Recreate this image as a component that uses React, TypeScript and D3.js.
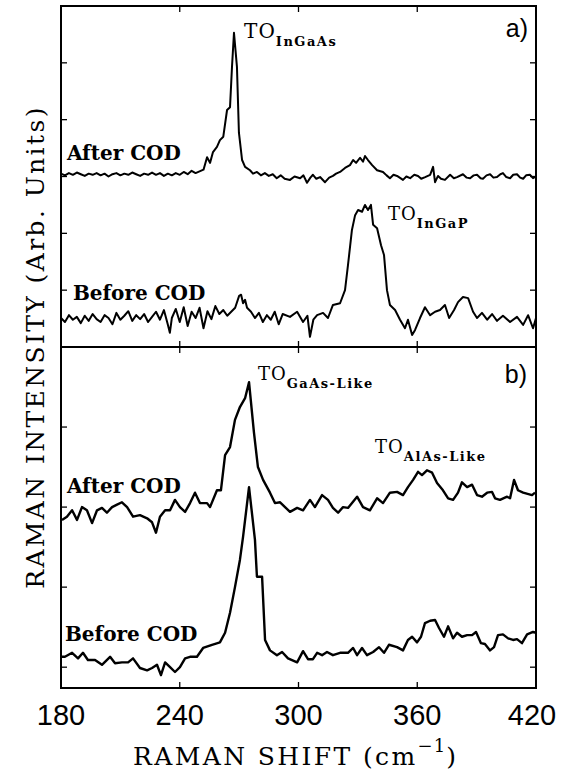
import React from "react";
import * as d3 from "d3";

// ---------- data (Raman shift in cm^-1, intensity in arb. units) ----------
const X_TICKS = [180, 240, 300, 360, 420];
const X_MINOR = [240, 300, 360];
const Y_TICKS_A = [1, 2, 3, 4, 5];
const Y_TICKS_B = [0, 1, 2, 3];

const afterCodA: [number, number][] = [
  [180,3.05],[182,3.02],[184,3.06],[186,3.03],[188,3.07],[190,3.04],[192,3.01],[194,3.05],[196,3.03],[198,3.06],
  [200,3.02],[202,3.05],[204,3.00],[206,3.04],[208,3.06],[210,3.02],[212,3.05],[214,3.03],[216,3.07],[218,3.04],
  [220,3.01],[222,3.05],[224,3.03],[226,3.07],[228,3.03],[230,3.06],[232,3.01],[234,3.05],[236,3.02],[238,3.06],
  [240,3.03],[242,3.08],[244,3.04],[246,3.10],[248,3.06],[250,3.09],[252,3.12],[253.8,3.34],[255.3,3.24],[256.8,3.43],
  [258.8,3.52],[260.3,3.64],[262,3.70],[263.9,4.17],[265.4,4.22],[266.4,4.93],[267.4,5.53],[268.9,4.93],[269.9,3.77],[271.5,3.29],
  [273,3.17],[275.5,3.11],[277,3.05],[279,3.08],[281,3.02],[283,3.06],[285,3.01],[287,3.04],[289,2.97],[291,3.02],
  [293,2.96],[295.7,2.94],[298,3.00],[300.8,2.97],[302.5,3.02],[304.3,2.89],[306,2.98],[307.3,3.03],[309,2.96],[310.9,2.99],
  [313.4,2.90],[315.5,2.98],[317.4,3.01],[319,3.05],[321,3.08],[323.5,3.15],[326,3.20],[327.6,3.29],[329.1,3.24],[331.1,3.33],
  [332.6,3.26],[333.6,3.36],[335.1,3.29],[337.2,3.20],[339.7,3.11],[342.7,3.08],[344.5,3.02],[346.2,2.97],[348,3.03],[349.8,3.01],
  [352.8,2.94],[354.5,3.00],[356.4,2.97],[358.5,3.03],[360.4,3.01],[362,2.96],[364,2.99],[366.5,3.03],[368,3.17],[369,2.90],
  [370.5,3.01],[372,2.96],[374,2.94],[376.6,3.03],[378.5,2.97],[380.1,2.99],[383.1,3.04],[385,2.98],[386.7,2.97],[388.5,3.02],
  [390.2,3.03],[392,2.97],[393.2,2.96],[395,3.02],[396.8,3.04],[398.5,2.98],[400.3,2.99],[402,3.04],[403.3,3.06],[405,2.99],
  [406.9,2.97],[408.5,3.03],[410.4,3.04],[412,2.98],[413.5,2.96],[415,3.02],[417,3.03],[418.5,2.97],[420,3.00],
];

const beforeCodA: [number, number][] = [
  [180,0.51],[182,0.44],[184,0.56],[186,0.48],[188,0.53],[190,0.42],[192,0.55],[194,0.46],[196,0.58],[198,0.49],
  [200,0.44],[202,0.56],[204,0.51],[206,0.40],[208,0.60],[210,0.48],[212,0.55],[214,0.63],[216,0.46],[218,0.56],
  [220,0.49],[222,0.58],[224,0.44],[226,0.53],[228,0.62],[230,0.48],[232,0.65],[234,0.39],[235,0.25],[236,0.51],
  [238,0.67],[240,0.44],[242,0.70],[244,0.37],[246,0.62],[248,0.51],[250,0.69],[252,0.33],[254,0.63],[256,0.49],
  [258,0.72],[260,0.58],[262,0.65],[264,0.55],[266,0.62],[268,0.69],[270,0.90],[271,0.92],[272,0.77],[273,0.83],
  [274,0.69],[276,0.62],[278,0.51],[280,0.60],[282,0.44],[284,0.56],[286,0.48],[288,0.62],[290,0.40],[292,0.58],
  [295.7,0.53],[299.3,0.62],[302.3,0.44],[304.5,0.55],[305.8,0.18],[307.5,0.48],[309.4,0.56],[312.4,0.60],[314.9,0.51],[317.4,0.74],
  [321,0.77],[323.5,1.00],[325,1.44],[327,2.06],[328.6,2.32],[330.1,2.41],[332.1,2.38],[333.6,2.50],[335.1,2.41],[336.6,2.50],
  [337.7,2.15],[339.7,2.09],[341.7,1.79],[343.2,1.62],[344.7,1.00],[346.2,0.74],[348.8,0.65],[351.3,0.48],[353.8,0.33],[355.3,0.48],
  [357.4,0.21],[358.9,0.30],[361.4,0.51],[363.9,0.70],[366.5,0.56],[369,0.62],[371.5,0.65],[374,0.74],[376.1,0.51],[378.6,0.65],
  [380.6,0.79],[383.1,0.88],[385.7,0.86],[388.2,0.62],[390.2,0.51],[392.7,0.60],[395.3,0.48],[397.8,0.58],[400.3,0.46],[403.3,0.55],
  [406.9,0.44],[410.4,0.53],[413.5,0.39],[416,0.56],[418.5,0.33],[420,0.51],
];

const afterCodB: [number, number][] = [
  [180.5,1.84],[183,1.88],[185.6,1.96],[188.1,1.84],[190.6,2.00],[193.1,1.96],[195.7,1.80],[198.2,1.96],[200.7,1.99],[203.2,1.93],
  [205.8,2.00],[208.3,2.03],[210.8,2.06],[213.4,2.00],[216.4,1.88],[219.9,1.90],[223.5,1.86],[226,1.81],[228,1.68],[230,1.88],
  [232.6,1.96],[235.1,1.96],[237.6,2.09],[240.1,2.00],[242.7,1.94],[245.2,2.05],[247.7,2.18],[250.2,2.05],[253.8,2.05],[255.3,2.00],
  [258.8,2.21],[260.8,2.21],[262.9,2.65],[265.4,2.75],[267.9,3.09],[270.4,3.25],[273,3.36],[275,3.56],[277.5,2.93],[279.5,2.50],
  [282.1,2.34],[285.6,2.18],[288.1,2.05],[290.7,2.06],[293.2,2.00],[295.7,1.94],[299.3,1.99],[302.3,1.96],[305.8,2.09],[308.3,2.00],
  [311.9,2.15],[314.9,2.09],[317.4,1.99],[320,1.93],[322.5,2.00],[325,1.99],[329.6,2.13],[332.6,2.00],[336.1,1.96],[339.7,2.11],
  [342.7,2.05],[346.2,2.18],[349.8,2.19],[352.8,2.15],[355.3,2.25],[357.9,2.34],[360.4,2.44],[362.4,2.40],[364.9,2.46],[367.5,2.43],
  [370,2.30],[373,2.21],[375.6,2.11],[378.1,2.09],[380.6,2.18],[382.6,2.31],[385.2,2.25],[387.7,2.28],[390.2,2.15],[392.7,2.13],
  [395.3,2.18],[397.8,2.19],[399.3,2.11],[401.8,2.09],[405.4,2.13],[406.9,2.11],[408.9,2.34],[410.9,2.21],[413.5,2.18],[418,2.15],
  [419.5,2.18],
];

const beforeCodB: [number, number][] = [
  [180,0.13],[182,0.13],[185.6,0.18],[188.6,0.11],[191.1,0.18],[193.6,0.09],[197.2,0.09],[200.7,0.03],[204.8,0.13],[207.3,0.05],
  [210.8,0.06],[213.9,0.06],[216.4,0.11],[219.9,-0.01],[223.5,-0.04],[226,-0.01],[228.5,0.03],[230.5,-0.10],[232.6,0.06],[235.1,0.00],
  [237.6,-0.06],[240.1,0.00],[242.7,0.11],[245.2,0.13],[248.7,0.13],[251.8,0.24],[256.3,0.28],[260.3,0.31],[262.9,0.43],[265.4,0.68],
  [267.9,1.00],[270.4,1.34],[272,1.63],[275,2.25],[278,1.59],[279,1.13],[281.6,1.13],[283.1,0.34],[285.6,0.21],[289.1,0.15],
  [291.7,0.19],[294.7,0.11],[299.3,0.06],[302.3,0.20],[304.8,0.10],[307.3,0.10],[309.4,0.18],[311.9,0.15],[314.4,0.19],[317.4,0.15],
  [321,0.18],[325,0.18],[327.6,0.24],[329.6,0.15],[332.1,0.24],[334.6,0.15],[337.7,0.19],[340.7,0.25],[343.2,0.18],[345.7,0.28],
  [349.8,0.25],[352.8,0.21],[355.3,0.34],[357.4,0.38],[359.9,0.31],[361.9,0.38],[363.9,0.55],[366.5,0.58],[369,0.59],[371,0.49],
  [373.5,0.38],[375.6,0.51],[378.1,0.36],[380.1,0.43],[382.6,0.38],[385.2,0.40],[387.7,0.40],[389.7,0.44],[392.2,0.30],[394.2,0.29],
  [396.8,0.21],[398.8,0.25],[400.8,0.40],[403.3,0.41],[405.9,0.36],[408.4,0.34],[410.4,0.35],[412.9,0.30],[415.5,0.41],[418.5,0.44],
  [420,0.43],
];

// ---------- layout ----------
const W = 561;
const H = 780;
const LEFT = 61;
const RIGHT = 536;
const TOP = 6;
const MID = 347;
const BOTTOM = 688;
const TICK = 6;
const TICK_FONT = 29;
const TICK_HALF_W = 26; // approx. half width of a 3-digit label

const SERIF = "'DejaVu Serif', serif";
const SANS = "'Liberation Sans', Arial, sans-serif";

export default function App() {
  const x = d3.scaleLinear().domain([180, 420]).range([LEFT, RIGHT]);
  const yA = d3.scaleLinear().domain([0, 6]).range([MID, TOP]);
  const yB = d3.scaleLinear().domain([-0.26, 4]).range([BOTTOM, MID]);

  const lineA = d3.line<[number, number]>().x((d) => x(d[0])).y((d) => yA(d[1]));
  const lineB = d3.line<[number, number]>().x((d) => x(d[0])).y((d) => yB(d[1]));

  const labelStyle = { fontFamily: SERIF, fontWeight: 700 as const, fontSize: 20 };

  const Sub = ({ cx, cy, main, sub, size, subSize, ls }: any) => (
    <text x={cx} y={cy} fontFamily={SERIF} fontSize={size} letterSpacing={ls} fill="#000">
      {main}
      <tspan dy={8} fontSize={subSize} fontWeight={700} letterSpacing={1.5}>{sub}</tspan>
    </text>
  );

  return (
    <svg
      width={W}
      height={H}
      viewBox={`0 0 ${W} ${H}`}
      style={{ position: "absolute", left: 0, top: 0, background: "#fff" }}
    >
      <rect x={0} y={0} width={W} height={H} fill="#fff" />

      {/* traces */}
      <path d={lineA(afterCodA) || ""} fill="none" stroke="#000" strokeWidth={2} strokeLinejoin="round" />
      <path d={lineA(beforeCodA) || ""} fill="none" stroke="#000" strokeWidth={2} strokeLinejoin="round" />
      <path d={lineB(afterCodB) || ""} fill="none" stroke="#000" strokeWidth={2.4} strokeLinejoin="round" />
      <path d={lineB(beforeCodB) || ""} fill="none" stroke="#000" strokeWidth={2.4} strokeLinejoin="round" />

      {/* frame */}
      <rect x={LEFT} y={TOP} width={RIGHT - LEFT} height={BOTTOM - TOP} fill="none" stroke="#000" strokeWidth={2} />
      <line x1={LEFT} x2={RIGHT} y1={MID} y2={MID} stroke="#000" strokeWidth={2} />

      {/* x ticks */}
      {X_MINOR.map((t) => (
        <g key={"xt" + t} stroke="#000" strokeWidth={1.3}>
          <line x1={x(t)} x2={x(t)} y1={TOP} y2={TOP + TICK} />
          <line x1={x(t)} x2={x(t)} y1={MID - TICK} y2={MID + TICK} />
          <line x1={x(t)} x2={x(t)} y1={BOTTOM} y2={BOTTOM - TICK} />
        </g>
      ))}
      {/* y ticks */}
      {Y_TICKS_A.map((t) => (
        <g key={"ya" + t} stroke="#000" strokeWidth={1.3}>
          <line x1={LEFT} x2={LEFT + TICK} y1={yA(t)} y2={yA(t)} />
          <line x1={RIGHT} x2={RIGHT - TICK} y1={yA(t)} y2={yA(t)} />
        </g>
      ))}
      {Y_TICKS_B.map((t) => (
        <g key={"yb" + t} stroke="#000" strokeWidth={1.3}>
          <line x1={LEFT} x2={LEFT + TICK} y1={yB(t)} y2={yB(t)} />
          <line x1={RIGHT} x2={RIGHT - TICK} y1={yB(t)} y2={yB(t)} />
        </g>
      ))}

      {/* x tick labels */}
      {X_TICKS.map((t) => (
        <text
          key={"xl" + t}
          x={Math.min(x(t), W - 3 - TICK_HALF_W)}
          y={725}
          textAnchor="middle"
          fontFamily={SANS}
          fontSize={TICK_FONT}
          fill="#000"
        >
          {t}
        </text>
      ))}

      {/* axis titles */}
      <text x={133} y={765} fontFamily={SERIF} fontSize={25} letterSpacing={2.4} fill="#000">
        RAMAN SHIFT (cm
        <tspan dy={-13} fontSize={18} letterSpacing={1}>−1</tspan>
        <tspan dy={13} fontSize={25}>)</tspan>
      </text>
      <text
        transform={`translate(44, ${(TOP + BOTTOM) / 2}) rotate(-90)`}
        textAnchor="middle"
        fontFamily={SERIF}
        fontSize={25}
        letterSpacing={2.4}
        fill="#000"
      >
        RAMAN INTENSITY (Arb. Units)
      </text>

      {/* panel labels */}
      <text x={x(416)} y={yA(5.45)} textAnchor="end" fontFamily={SANS} fontSize={25} fill="#000">a)</text>
      <text x={x(415.5)} y={yB(3.55)} textAnchor="end" fontFamily={SANS} fontSize={25} fill="#000">b)</text>

      {/* trace labels */}
      <text x={x(183)} y={yA(3.29)} {...labelStyle}>After COD</text>
      <text x={x(186)} y={yA(0.83)} {...labelStyle}>Before COD</text>
      <text x={x(183)} y={yB(2.18)} {...labelStyle}>After COD</text>
      <text x={x(182)} y={yB(0.33)} {...labelStyle}>Before COD</text>

      {/* peak labels */}
      <Sub cx={x(272.5)} cy={yA(5.44)} main="TO" sub="InGaAs" size={20} subSize={13} ls={1} />
      <Sub cx={x(345.2)} cy={yA(2.23)} main="TO" sub="InGaP" size={18} subSize={13} ls={1} />
      <Sub cx={x(279.5)} cy={yB(3.59)} main="TO" sub="GaAs-Like" size={18} subSize={13} ls={1} />
      <Sub cx={x(338.7)} cy={yB(2.68)} main="TO" sub="AlAs-Like" size={18} subSize={13} ls={1} />
    </svg>
  );
}
